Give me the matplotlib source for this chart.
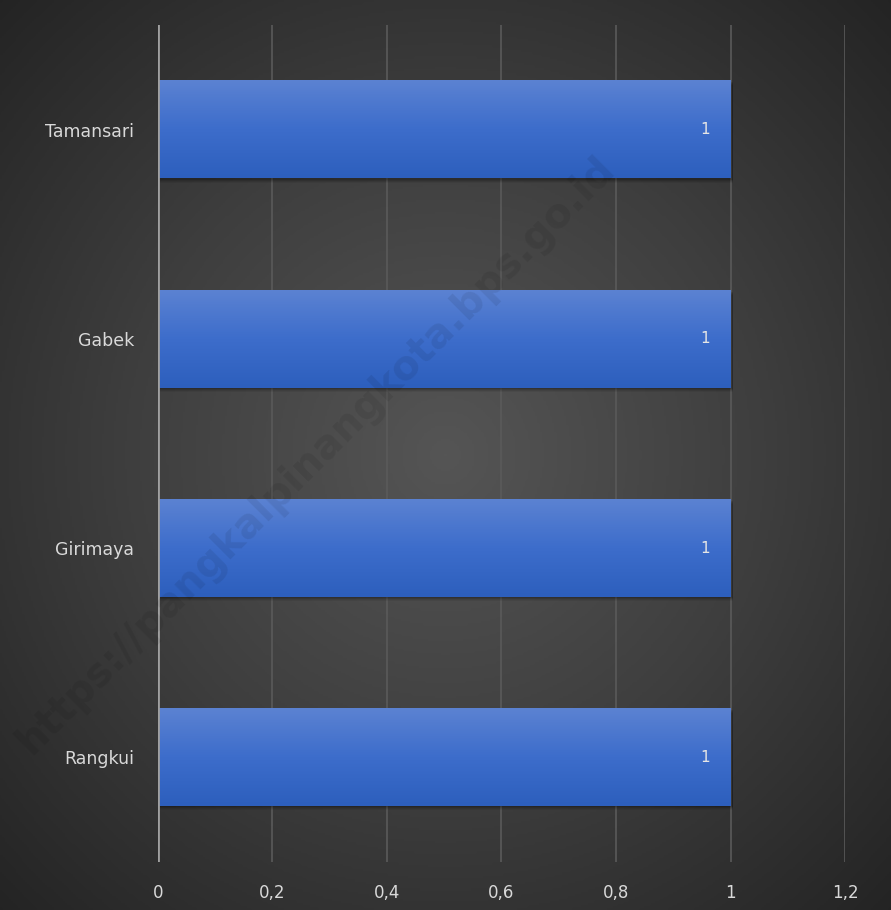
import numpy as np
import matplotlib
matplotlib.use("Agg")
import matplotlib.pyplot as plt
from matplotlib.patches import Rectangle
from matplotlib.colors import LinearSegmentedColormap

# data
categories = ["Tamansari", "Gabek", "Girimaya", "Rangkui"]
values = [1, 1, 1, 1]
xticks = [0, 0.2, 0.4, 0.6, 0.8, 1.0, 1.2]
xtick_labels = ["0", "0,2", "0,4", "0,6", "0,8", "1", "1,2"]

fig = plt.figure(figsize=(8.91, 9.10), dpi=100)

# radial background
bg = fig.add_axes([0, 0, 1, 1])
yy, xx = np.mgrid[0:1:400j, 0:1:400j]
r = np.sqrt((xx - 0.5) ** 2 + (yy - 0.5) ** 2)
bg_cmap = LinearSegmentedColormap.from_list("bg", ["#555555", "#3e3e3e", "#232323"])
bg.imshow(r, cmap=bg_cmap, extent=[0, 1, 0, 1], aspect="auto", vmin=0, vmax=0.72)
bg.set_axis_off()

ax = fig.add_axes([0.1773, 0.0527, 0.7711, 0.9198])
ax.set_facecolor("none")

for x in xticks[1:]:
    ax.axvline(x, color="#5a5a5a", lw=1.2, zorder=1)
ax.axvline(0, color="#a0a0a0", lw=2, zorder=4)

bar_h = 0.465
bar_cmap = LinearSegmentedColormap.from_list("bar", ["#5b82d2", "#3d6dcb", "#2d5fbd"])
grad = np.linspace(0, 1, 100).reshape(-1, 1)
for i, v in enumerate(values):
    # soft shadow
    for k, a in enumerate([0.12, 0.1, 0.08, 0.06]):
        off = 0.006 + 0.005 * k
        ax.add_patch(Rectangle((0.004, i - bar_h / 2 + off), v, bar_h, color="black",
                               alpha=a, lw=0, zorder=2))
    ax.imshow(grad, cmap=bar_cmap, aspect="auto",
              extent=[0, v, i + bar_h / 2, i - bar_h / 2], zorder=3)
    ax.text(v - 0.045, i, f"{v}", color="#e6e6e6", fontsize=11, ha="center", va="center",
            zorder=5)

ax.set_xlim(0, 1.2)
ax.set_ylim(len(categories) - 0.5, -0.5)
ax.set_yticks(range(len(categories)))
ax.set_yticklabels(categories)
ax.set_xticks(xticks)
ax.set_xticklabels(xtick_labels)
ax.tick_params(axis="x", length=0, pad=16, labelsize=12, labelcolor="#d9d9d9")
ax.tick_params(axis="y", length=0, pad=17, labelsize=12.5, labelcolor="#d9d9d9")
for s in ax.spines.values():
    s.set_visible(False)

# watermark
fig.text(0.355, 0.50, "https://pangkalpinangkota.bps.go.id", rotation=45,
         fontsize=29, fontweight="bold", color="black", alpha=0.08,
         ha="center", va="center", zorder=10)

fig.savefig("out.png", dpi=100)
